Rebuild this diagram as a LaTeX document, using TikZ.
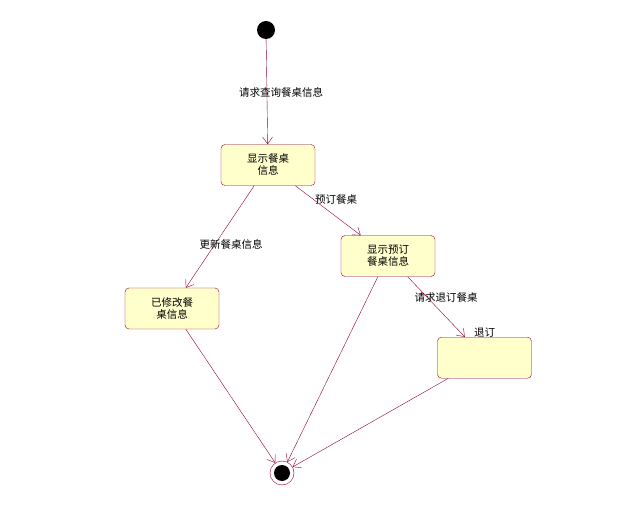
\documentclass[tikz,border=0pt]{standalone}
\usepackage{fontspec}
\setmainfont{Noto Sans CJK SC}
\usetikzlibrary{arrows.meta}
\definecolor{lc}{RGB}{150,0,60}
\definecolor{sf}{RGB}{255,255,204}
\tikzset{
 st/.style={draw=lc,fill=sf,rounded corners=4pt,minimum width=94pt,minimum height=41pt,align=center,font=\fontsize{10.5pt}{12pt}\selectfont,inner sep=1pt},
 tr/.style={draw=lc,-{Straight Barb[length=7pt,width=10pt]}},
 lb/.style={font=\fontsize{10.5pt}{12pt}\selectfont}
}
\begin{document}
\begin{tikzpicture}[x=1pt,y=-1pt]
\useasboundingbox[fill=white] (0,0) rectangle (629,521);
\node[circle,fill=black,minimum size=18pt,inner sep=0] (s) at (266,30) {};
\node[st] (a) at (268,165) {显示餐桌\\信息};
\node[st] (b) at (388,256) {显示预订\\餐桌信息};
\node[st] (c) at (172,308.5) {已修改餐\\桌信息};
\node[st,anchor=north,text height=10pt] (d) at (484.5,337) {退订\\[14pt]\mbox{}};
\node[circle,draw=lc,fill=white,minimum size=24pt,inner sep=0] (e) at (282,473) {};
\node[circle,fill=black,minimum size=16pt,inner sep=0] at (e) {};
\draw[tr] (s) -- (a);
\draw[tr] (a) -- (b);
\draw[tr] (a) -- (c);
\draw[tr] (b) -- (d);
\draw[tr] (c) -- (e);
\draw[tr] (b) -- (e);
\draw[tr] (d) -- (e);
\node[lb] at (281,92) {请求查询餐桌信息};
\node[lb] at (336,200) {预订餐桌};
\node[lb] at (231,244) {更新餐桌信息};
\node[lb] at (446,298) {请求退订餐桌};
\end{tikzpicture}
\end{document}
